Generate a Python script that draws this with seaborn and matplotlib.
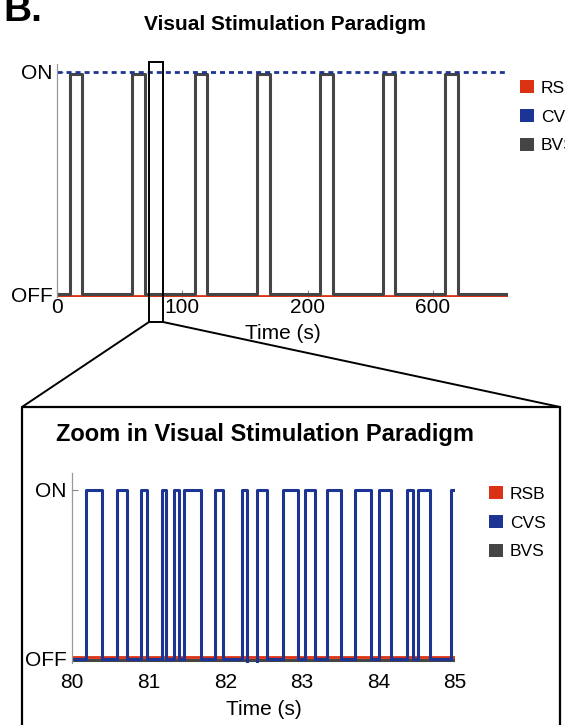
import matplotlib
matplotlib.use("Agg")
import matplotlib.pyplot as plt
import seaborn as sns
from matplotlib.patches import Patch, Rectangle
from matplotlib.lines import Line2D

# -----------------------------
# Data
# -----------------------------
# full paradigm (s): block design, BVS on blocks
bvs_on = [10, 60, 110, 160, 210, 260, 310]
bvs_off = [20, 70, 120, 170, 220, 270, 320]
t_end = 360
full_ticks = [0, 100, 200, 300]
full_tick_labels = ["0", "100", "200", "600"]

# zoom 80-85 s: CVS edge times and level after each edge
cvs_edges = [80.00, 80.18, 80.39, 80.59, 80.72, 80.90, 80.98, 81.17, 81.23,
             81.33, 81.40, 81.46, 81.69, 81.87, 81.97, 82.22, 82.29, 82.41,
             82.55, 82.75, 82.95, 83.04, 83.17, 83.33, 83.51, 83.69, 83.90,
             84.01, 84.16, 84.37, 84.45, 84.52, 84.67, 84.95, 85.00]
cvs_levels = [0, 1, 0, 1, 0, 1, 0, 1, 0,
              1, 0, 1, 0, 1, 0, 1, -0.03, 1,
              0, 1, 0, 1, 0, 1, 0, 1, 0,
              1, 0, 1, 0, 1, 0, 1, 1]
zoom_ticks = [80, 81, 82, 83, 84, 85]

labels = ["RSB", "CVS", "BVS"]
colors = {"RSB": "#dc3214", "CVS": "#1c3594", "BVS": "#454545"}

# -----------------------------
# Style
# -----------------------------
sns.set_theme(style="white")
plt.rcParams["font.family"] = ["Liberation Sans", "DejaVu Sans"]
plt.rcParams["text.color"] = "black"
plt.rcParams["axes.labelcolor"] = "black"
plt.rcParams["xtick.labelcolor"] = "black"
plt.rcParams["ytick.labelcolor"] = "black"

W, H = 565, 725
fig = plt.figure(figsize=(W / 100, H / 100), dpi=100)


def fx(px):
    return px / W


def fy(py):
    return 1 - py / H


# step arrays for BVS
bvs_t = [0]
bvs_y = [0]
for a, b in zip(bvs_on, bvs_off):
    bvs_t += [a, b]
    bvs_y += [0.99, 0]
bvs_t.append(t_end)
bvs_y.append(0)

# -----------------------------
# Top panel: full paradigm
# -----------------------------
ax1 = fig.add_axes([fx(57), fy(297), (508 - 57) / W, (297 - 64) / H])
sns.lineplot(x=[0, t_end], y=[-0.008, -0.008], color=colors["RSB"],
             linewidth=2.0, estimator=None, sort=False, ax=ax1)
sns.lineplot(x=bvs_t, y=bvs_y, drawstyle="steps-post", color=colors["BVS"],
             linewidth=2.2, estimator=None, sort=False, ax=ax1)
sns.lineplot(x=[0, t_end], y=[1, 1], color=colors["CVS"], linewidth=2.0,
             linestyle=(0, (1.8, 1.45)), estimator=None, sort=False, ax=ax1)
ax1.set_xlim(0, t_end)
ax1.set_ylim(-0.0135, 1.036)
ax1.set_xticks(full_ticks)
ax1.set_xticklabels(full_tick_labels)
ax1.set_yticks([0, 1])
ax1.set_yticklabels(["OFF", "ON"])
ax1.tick_params(axis="x", direction="in", length=5, width=0.8, color="#888888",
                labelsize=15, pad=1, bottom=True)
ax1.tick_params(axis="y", direction="in", length=4, width=0.8, color="#888888",
                labelsize=15, pad=3, left=True)
ax1.set_xlabel("Time (s)", fontsize=15, labelpad=5)
ax1.set_ylabel("")
for s in ["top", "right", "bottom"]:
    ax1.spines[s].set_visible(False)
ax1.spines["left"].set_color("#999999")
ax1.spines["left"].set_linewidth(0.9)

handles = [Patch(facecolor=colors[k], edgecolor="none") for k in labels]
ax1.legend(handles, labels, loc="upper left", bbox_to_anchor=(fx(520), fy(80)),
           bbox_transform=fig.transFigure, frameon=False, fontsize=12.5,
           handlelength=0.8, handleheight=0.8, handletextpad=0.4,
           labelspacing=0.76, borderpad=0, borderaxespad=0)

# -----------------------------
# Bottom panel: zoom
# -----------------------------
ax2 = fig.add_axes([fx(72), fy(663), (455 - 72) / W, (663 - 473) / H])
sns.lineplot(x=[80, 85], y=[-0.008, -0.008], color=colors["BVS"],
             linewidth=2.2, estimator=None, sort=False, ax=ax2)
sns.lineplot(x=[80, 85], y=[0.012, 0.012], color=colors["RSB"],
             linewidth=2.0, estimator=None, sort=False, ax=ax2)
sns.lineplot(x=cvs_edges, y=cvs_levels, drawstyle="steps-post",
             color=colors["CVS"], linewidth=2.2, estimator=None, sort=False,
             ax=ax2)
ax2.set_xlim(80, 85)
ax2.set_ylim(-0.024, 1.1)
ax2.set_xticks(zoom_ticks)
ax2.set_yticks([0, 1])
ax2.set_yticklabels(["OFF", "ON"])
ax2.tick_params(axis="x", length=0, labelsize=15, pad=7)
ax2.tick_params(axis="y", direction="in", length=4, width=0.8, color="#888888",
                labelsize=15, pad=4, left=True)
ax2.set_xlabel("Time (s)", fontsize=15, labelpad=6)
ax2.set_ylabel("")
for s in ["top", "right", "bottom"]:
    ax2.spines[s].set_visible(False)
ax2.spines["left"].set_color("#999999")
ax2.spines["left"].set_linewidth(0.9)

ax2.legend(handles, labels, loc="upper left", bbox_to_anchor=(fx(489), fy(486)),
           bbox_transform=fig.transFigure, frameon=False, fontsize=12.5,
           handlelength=0.8, handleheight=0.8, handletextpad=0.4,
           labelspacing=0.76, borderpad=0, borderaxespad=0)

# -----------------------------
# Titles and zoom annotation
# -----------------------------
fig.text(fx(3), fy(-7), "B.", fontsize=28, fontweight="bold", va="top", ha="left")
fig.text(fx(285), fy(25), "Visual Stimulation Paradigm", fontsize=15,
         fontweight="bold", ha="center", va="center")
fig.text(fx(265), fy(435), "Zoom in Visual Stimulation Paradigm", fontsize=17,
         fontweight="bold", ha="center", va="center")

tr = fig.transFigure
fig.add_artist(Rectangle((fx(149), fy(322)), (163 - 149) / W, (322 - 62) / H,
                         transform=tr, fill=False, edgecolor="black", linewidth=1.4))
fig.add_artist(Line2D([fx(149), fx(22)], [fy(322), fy(407)], transform=tr,
                      color="black", linewidth=1.4))
fig.add_artist(Line2D([fx(163), fx(560)], [fy(322), fy(407)], transform=tr,
                      color="black", linewidth=1.4))
fig.add_artist(Line2D([fx(22), fx(22), fx(560), fx(560)],
                      [fy(740), fy(407), fy(407), fy(740)], transform=tr,
                      color="black", linewidth=1.6))

fig.savefig("out.png", dpi=100)
